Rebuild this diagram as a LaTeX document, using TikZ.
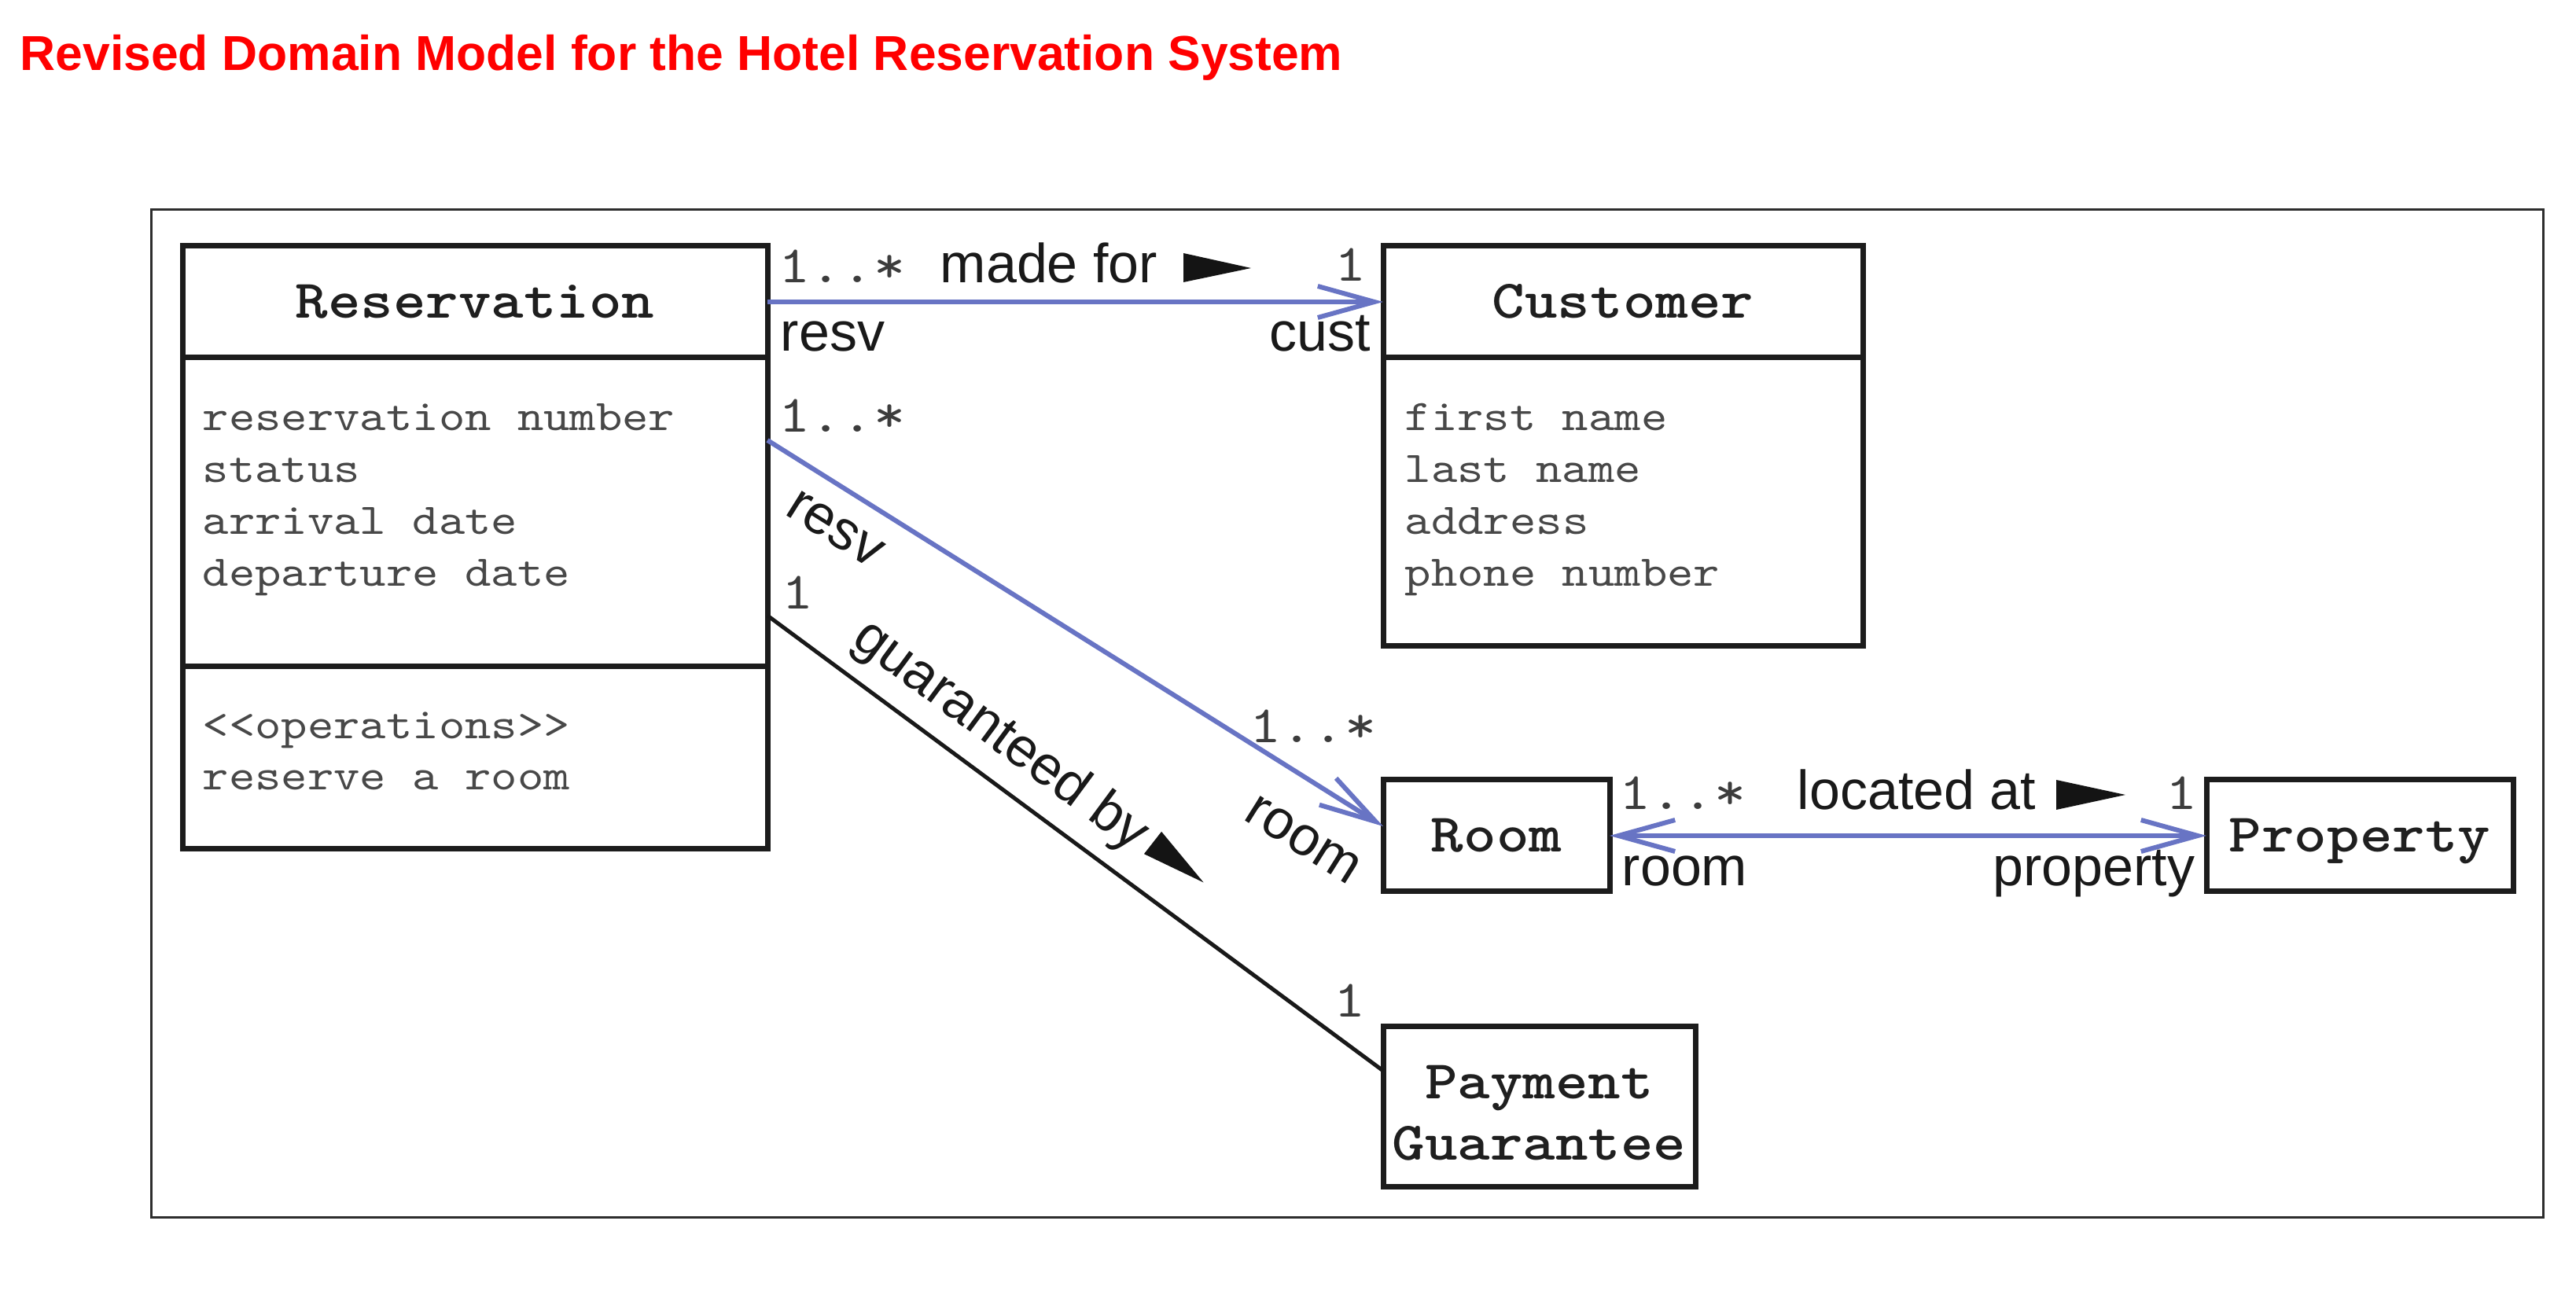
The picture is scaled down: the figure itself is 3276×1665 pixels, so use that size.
\documentclass[tikz,border=0pt]{standalone}
\usepackage{fontspec}
\setmainfont{Liberation Sans}
\newfontfamily\clsfont{lmmonolt10-bold.otf}[FakeStretch=1.143]
\newfontfamily\umlmono{lmmono10-regular.otf}[FakeStretch=1.143]
\usetikzlibrary{arrows.meta,calc}
\definecolor{assoc}{RGB}{104,116,196}
\definecolor{boxline}{RGB}{28,28,28}
\definecolor{attrtext}{RGB}{72,72,72}
\definecolor{multtext}{RGB}{60,60,60}
\definecolor{frameline}{RGB}{45,45,45}
\definecolor{titlered}{RGB}{255,0,0}
\tikzset{
  umlbox/.style={draw=boxline, line width=1.75pt, fill=white, inner sep=0pt, outer sep=0pt},
  clsname/.style={font=\clsfont\fontsize{17.3}{20}\selectfont, text=black!88, text height=10.5pt, text depth=0pt},
  attr/.style={font=\umlmono\fontsize{13.9}{16.5}\selectfont, text=attrtext, inner sep=0pt, anchor=base west},
  mult/.style={font=\umlmono\fontsize{16.7}{20}\selectfont, text=multtext, inner sep=0pt},
  role/.style={font=\fontsize{17.5}{21}\selectfont, text=black!90, inner sep=0pt},
  assocline/.style={draw=assoc, line width=1.5pt},
  barb/.style={-{Straight Barb[length=18pt,width=10pt]}},
  dblbarb/.style={{Straight Barb[length=18pt,width=10pt]}-{Straight Barb[length=18pt,width=10pt]}},
  linkline/.style={draw=black!90, line width=1.25pt},
  dirtri/.style={fill=black!92}
}
\begin{document}
\begin{tikzpicture}[x=0.25pt,y=-0.25pt]
\useasboundingbox (0,0) rectangle (3276,1665);
\fill[white] (0,0) rectangle (3276,1665);

% title
\node[anchor=base west, inner sep=0pt, text=titlered, font=\fontsize{15.6}{18}\selectfont\bfseries] (title) at (25,90) {Revised Domain Model for the Hotel Reservation System};

% frame
\draw[frameline, line width=0.75pt] (192,267) rectangle (3234,1548);

% classes
\node[umlbox, clsname, minimum width=186pt, minimum height=35.5pt] (resHead) at (604,384) {Reservation};
\node[umlbox, minimum width=186pt, minimum height=98.25pt] (resAttr) at (604,651.5) {};
\node[umlbox, minimum width=186pt, minimum height=58pt] (resOps) at (604,964) {};

\node[umlbox, clsname, minimum width=152.5pt, minimum height=35.5pt] (custHead) at (2064,384) {Customer};
\node[umlbox, minimum width=152.5pt, minimum height=91.75pt] (custAttr) at (2064,638.5) {};

\node[umlbox, clsname, minimum width=72pt, minimum height=35.5pt] (room) at (1903,1063) {Room};
\node[umlbox, clsname, minimum width=97.5pt, minimum height=35.5pt] (prop) at (3001,1063) {Property};
\node[umlbox, font=\clsfont\fontsize{17.3}{19.5}\selectfont, text=black!88, align=center, minimum width=99.25pt, minimum height=51pt] (pay) at (1957.5,1408) {\rule{0pt}{14.6pt}Payment\\Guarantee};

% attributes
\node[attr] (ra1) at (257,548) {reservation number};
\node[attr] (ra2) at (257,614) {status};
\node[attr] (ra3) at (257,680) {arrival date};
\node[attr] (ra4) at (257,746) {departure date};
\node[attr] (ro1) at (257,940) {<<operations>>};
\node[attr] (ro2) at (257,1005) {reserve a room};

\node[attr] (ca1) at (1786,548) {first name};
\node[attr] (ca2) at (1786,614) {last name};
\node[attr] (ca3) at (1786,680) {address};
\node[attr] (ca4) at (1786,746) {phone number};

% associations
\draw[assocline, barb] (resHead.east) -- (custHead.west);
\draw[assocline, barb] ($(resAttr.north east)+(0,105)$) -- ($(room.west)+(0,-12)$);
\draw[linkline] ($(resAttr.north east)+(0,328)$) -- ($(pay.north west)+(0,56)$);
\draw[assocline, dblbarb] (room.east) -- (prop.west);

% made for
\node[mult, anchor=base west] (m1) at (990,360) {1..*};
\node[role, anchor=base west] (mfLbl) at (1195,360) {made for};
\fill[dirtri] (1505,322) -- (1591,341) -- (1505,359) -- cycle;
\node[mult, anchor=base] (m2) at (1718,358) {1};
\node[role, anchor=base west] (resvA) at (992,447) {resv};
\node[role, anchor=base east] (custA) at (1744,447) {cust};

% resv - room
\node[mult, anchor=base west] (m3) at (990,550) {1..*};
\node[role, rotate=-32.1] (resvB) at (1062,673) {resv};
\node[mult, anchor=base west] (m5) at (1589,945) {1..*};
\node[role, rotate=-32.1] (roomB) at (1657,1068) {room};

% guaranteed by
\node[mult, anchor=base] (m4) at (1015,775) {1};
\node[role, rotate=-36.5] (guarLbl) at (1272,937) {guaranteed by};
\fill[dirtri, shift={(1466,1072)}, rotate=-38] (0,-18) -- (82,0) -- (0,18) -- cycle;
\node[mult, anchor=base] (m8) at (1717,1294) {1};

% located at
\node[mult, anchor=base west] (m6) at (2059,1030) {1..*};
\node[role, anchor=base west] (locLbl) at (2285,1030) {located at};
\fill[dirtri] (2615,992) -- (2703,1011) -- (2615,1030) -- cycle;
\node[mult, anchor=base] (m7) at (2775,1030) {1};
\node[role, anchor=base west] (roomA) at (2062,1127) {room};
\node[role, anchor=base east] (propA) at (2792,1127) {property};
\end{tikzpicture}
\end{document}
